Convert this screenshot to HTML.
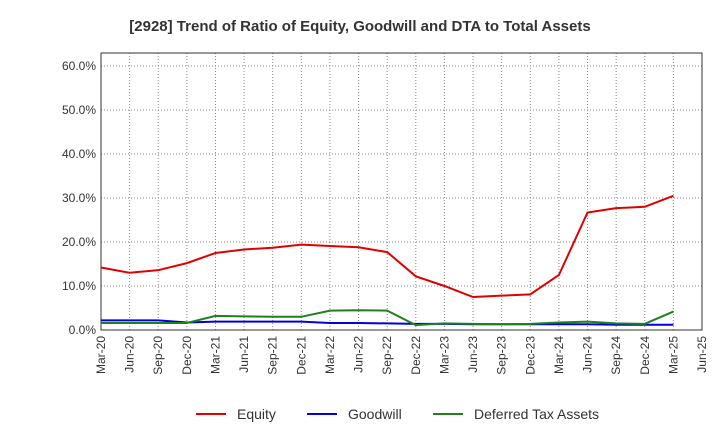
<!DOCTYPE html>
<html><head><meta charset="utf-8">
<style>
html,body{margin:0;padding:0;background:#fff;}
svg{display:block;font-family:"Liberation Sans",Arial,sans-serif;}
</style></head>
<body>
<svg id="chart" width="720" height="440" viewBox="0 0 720 440">
<text x="360" y="31" text-anchor="middle" font-size="15" font-weight="bold" fill="#333">[2928]  Trend of Ratio of Equity, Goodwill and DTA to Total Assets</text>
<g id="grid"></g>
<g id="axes"></g>
<g id="series"></g>
<g id="legend"></g>
</svg>
<script>
const categories=["Mar-20","Jun-20","Sep-20","Dec-20","Mar-21","Jun-21","Sep-21","Dec-21","Mar-22","Jun-22","Sep-22","Dec-22","Mar-23","Jun-23","Sep-23","Dec-23","Mar-24","Jun-24","Sep-24","Dec-24","Mar-25","Jun-25"];
const equity=[14.2,13.0,13.6,15.2,17.5,18.3,18.7,19.4,19.1,18.8,17.7,12.2,10.0,7.5,7.8,8.1,12.5,26.7,27.7,28.0,30.5];
const goodwill=[2.2,2.2,2.2,1.7,1.9,1.9,1.9,1.9,1.6,1.6,1.5,1.4,1.4,1.3,1.3,1.3,1.3,1.3,1.2,1.2,1.2];
const dta=[1.6,1.6,1.6,1.6,3.2,3.1,3.0,3.0,4.4,4.5,4.4,1.1,1.5,1.4,1.3,1.4,1.7,1.9,1.5,1.4,4.2];
const yTicks=[0,10,20,30,40,50,60];
const NS="http://www.w3.org/2000/svg";
const L=101,R=702,T=53,B=330;
const xs=i=>L+i*(R-L)/(categories.length-1);
const ys=v=>B-v*4.4;
function mk(tag,attrs,parent){const e=document.createElementNS(NS,tag);for(const k in attrs)e.setAttribute(k,attrs[k]);parent.appendChild(e);return e;}
const grid=document.getElementById('grid'),axes=document.getElementById('axes'),ser=document.getElementById('series'),leg=document.getElementById('legend');
yTicks.forEach(v=>{
 const y=ys(v);
 const g=mk('line',{x1:L,x2:R,y1:y,y2:y,stroke:'#888','stroke-dasharray':'1,2','stroke-width':1},grid);
 
 
 const t=mk('text',{x:L-5,y:y+4,'text-anchor':'end','font-size':12,fill:'#333'},axes);
 t.textContent=v.toFixed(1)+'%';
 
 
});
categories.forEach((c,i)=>{
 const x=xs(i);
 const g=mk('line',{x1:x,x2:x,y1:T,y2:B,stroke:'#888','stroke-dasharray':'1,2','stroke-width':1},grid);
 
 
 const t=mk('text',{x:0,y:0,'text-anchor':'end','font-size':12,fill:'#333',transform:`translate(${x+4},${B+6}) rotate(-90)`},axes);
 t.textContent=c;
 
 
});
const frame=mk('rect',{x:L,y:T,width:R-L,height:B-T,fill:'none',stroke:'#333','stroke-width':1},axes);


const series=[["equity-line",equity,"#e00000","Equity"],["goodwill-line",goodwill,"#0000e0","Goodwill"],["deferred-tax-assets-line",dta,"#208020","Deferred Tax Assets"]];
series.forEach(([n,d,col])=>{
 const p=mk('polyline',{points:d.map((v,i)=>xs(i)+','+ys(v)).join(' '),fill:'none',stroke:col,'stroke-width':2},ser);
 
 
});
const lx=[196,307,433];
series.forEach(([n,d,col,label],k)=>{
 const x=lx[k];
 const l=mk('line',{x1:x,x2:x+30,y1:414,y2:414,stroke:col,'stroke-width':2},leg);
 
 
 const t=mk('text',{x:x+41,y:419,'font-size':14,fill:'#333'},leg);
 t.textContent=label;
 
 
});
</script>
</body></html>
